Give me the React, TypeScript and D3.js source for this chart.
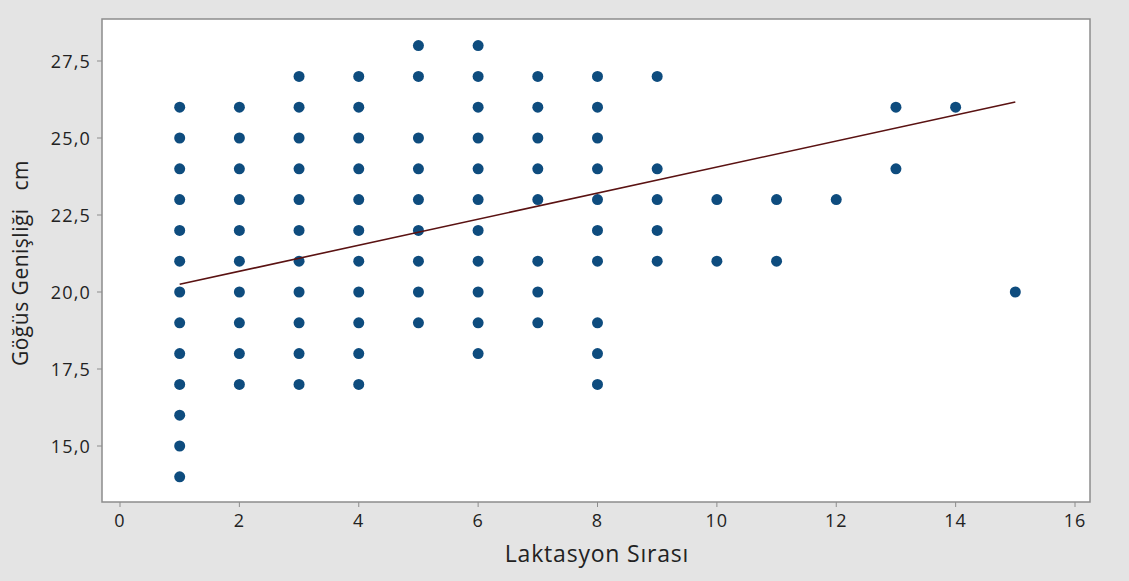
import React from "react";
import * as d3 from "d3";

// Lactation order (x) and chest width in cm (y), one array of y values per lactation
const lactations = [1, 2, 3, 4, 5, 6, 7, 8, 9, 10, 11, 12, 13, 14, 15];
const chestWidths: number[][] = [
  [26, 25, 24, 23, 22, 21, 20, 19, 18, 17, 16, 15, 14],
  [26, 25, 24, 23, 22, 21, 20, 19, 18, 17],
  [27, 26, 25, 24, 23, 22, 21, 20, 19, 18, 17],
  [27, 26, 25, 24, 23, 22, 21, 20, 19, 18, 17],
  [28, 27, 25, 24, 23, 22, 21, 20, 19],
  [28, 27, 26, 25, 24, 23, 22, 21, 20, 19, 18],
  [27, 26, 25, 24, 23, 21, 20, 19],
  [27, 26, 25, 24, 23, 22, 21, 19, 18, 17],
  [27, 24, 23, 22, 21],
  [23, 21],
  [23, 21],
  [23],
  [26, 24],
  [26],
  [20],
];

// Fitted regression line endpoints
const fitLine = [
  { x: 1, y: 20.25 },
  { x: 15, y: 26.17 },
];

const xTicks = [0, 2, 4, 6, 8, 10, 12, 14, 16];
const yTicks = [15, 17.5, 20, 22.5, 25, 27.5];

const xTitle = "Laktasyon Sırası";
const yTitle = "Göğüs Genişliği   cm";

const W = 1129;
const H = 581;
const frame = { left: 102, top: 19, right: 1090, bottom: 502 };

export default function App() {
  const x = d3.scaleLinear().domain([0, 16]).range([120, 1075]);
  const y = d3.scaleLinear().domain([15, 27.5]).range([446, 61]);

  const points = lactations.flatMap((lx, i) =>
    chestWidths[i].map((v) => ({ x: lx, y: v }))
  );

  const line = d3
    .line<{ x: number; y: number }>()
    .x((d) => x(d.x))
    .y((d) => y(d.y));

  const fmt = (v: number) => d3.format(".1f")(v).replace(".", ",");
  const font = "'Open Sans', 'DejaVu Sans', sans-serif";

  return (
    <svg
      width={W}
      height={H}
      style={{ position: "absolute", left: 0, top: 0, display: "block" }}
      fontFamily={font}
    >
      <rect x={0} y={0} width={W} height={H} fill="#e4e4e4" />
      <rect
        x={frame.left}
        y={frame.top}
        width={frame.right - frame.left}
        height={frame.bottom - frame.top}
        fill="#ffffff"
        stroke="#8c8c8c"
        strokeWidth={1.5}
      />

      {/* x axis ticks */}
      {xTicks.map((t) => (
        <g key={"xt" + t}>
          <line
            x1={x(t)}
            x2={x(t)}
            y1={frame.bottom}
            y2={frame.bottom + 5}
            stroke="#8c8c8c"
          />
          <text
            x={x(t)}
            y={520}
            textAnchor="middle"
            dominantBaseline="central"
            fontSize={18}
            letterSpacing={1}
            fill="#222"
          >
            {t}
          </text>
        </g>
      ))}

      {/* y axis ticks */}
      {yTicks.map((t) => (
        <g key={"yt" + t}>
          <line
            x1={frame.left - 5}
            x2={frame.left}
            y1={y(t)}
            y2={y(t)}
            stroke="#8c8c8c"
          />
          <text
            x={91}
            y={y(t)}
            textAnchor="end"
            dominantBaseline="central"
            fontSize={18}
            letterSpacing={1.2}
            fill="#222"
          >
            {fmt(t)}
          </text>
        </g>
      ))}

      {/* data points */}
      {points.map((p, i) => (
        <circle key={i} cx={x(p.x)} cy={y(p.y)} r={5.5} fill="#0e4c7e" />
      ))}

      {/* regression line */}
      <path d={line(fitLine) ?? ""} fill="none" stroke="#5a1212" strokeWidth={1.6} />

      <text
        x={597}
        y={562}
        textAnchor="middle"
        fontSize={23}
        letterSpacing={0.8}
        fill="#222"
      >
        {xTitle}
      </text>
      <text
        transform="translate(28,263) rotate(-90)"
        textAnchor="middle"
        fontSize={21}
        letterSpacing={0.5}
        fill="#222"
        style={{ whiteSpace: "pre" }}
      >
        {yTitle}
      </text>
    </svg>
  );
}
